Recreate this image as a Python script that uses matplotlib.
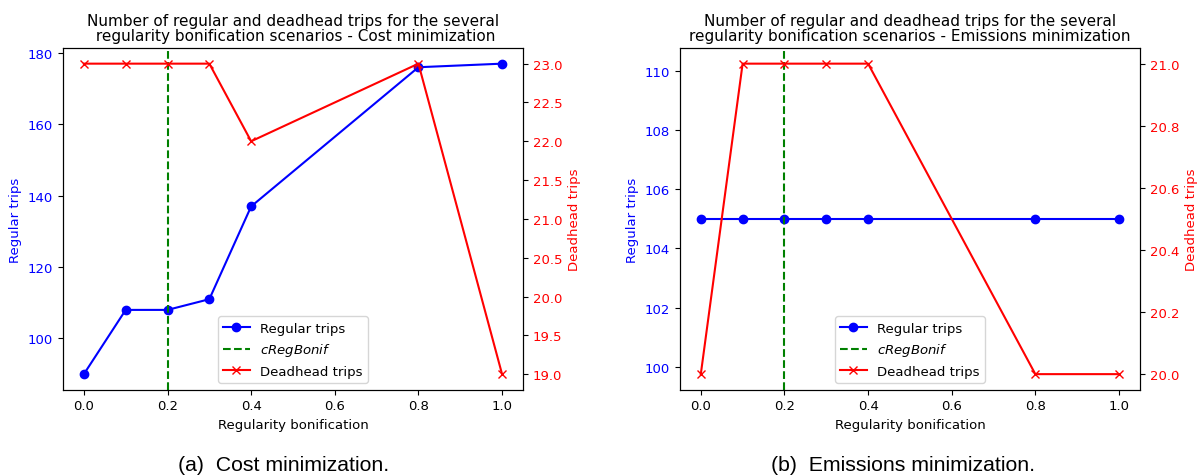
import matplotlib
matplotlib.use('Agg')
import matplotlib.pyplot as plt

# regularity bonification values
bonif = [0.0, 0.1, 0.2, 0.3, 0.4, 0.8, 1.0]
c_reg_bonif = 0.2

# cost minimization
cost_regular = [90, 108, 108, 111, 137, 176, 177]
cost_deadhead = [23, 23, 23, 23, 22, 23, 19]

# emissions minimization
em_regular = [105, 105, 105, 105, 105, 105, 105]
em_deadhead = [20, 21, 21, 21, 21, 20, 20]

titles = ['Number of regular and deadhead trips for the several\n regularity bonification scenarios - Cost minimization',
          'Number of regular and deadhead trips for the several\nregularity bonification scenarios - Emissions minimization']
captions = ['(a)  Cost minimization.', '(b)  Emissions minimization.']

FS = 9.5

fig = plt.figure(figsize=(11.97, 4.77), dpi=100)

def panel(rect, regular, deadhead, title):
    ax1 = fig.add_axes(rect)
    l1, = ax1.plot(bonif, regular, 'b-o', label='Regular trips')
    l2 = ax1.axvline(c_reg_bonif, color='g', linestyle='--', label='$cRegBonif$')
    ax1.set_xlabel('Regularity bonification', fontsize=FS)
    ax1.set_ylabel('Regular trips', color='b', fontsize=FS)
    ax1.tick_params(axis='y', labelcolor='b', labelsize=FS)
    ax1.tick_params(axis='x', labelsize=FS)
    ax2 = ax1.twinx()
    l3, = ax2.plot(bonif, deadhead, 'r-x', label='Deadhead trips')
    ax2.set_ylabel('Deadhead trips', color='r', fontsize=FS)
    ax2.tick_params(axis='y', labelcolor='r', labelsize=FS)
    ax1.set_title(title, fontsize=11, linespacing=1.0)
    ax1.legend(handles=[l1, l2, l3], loc='lower center', fontsize=FS)
    return ax1

panel([0.0526, 0.181, 0.3843, 0.716], cost_regular, cost_deadhead, titles[0])
panel([0.568, 0.181, 0.3843, 0.716], em_regular, em_deadhead, titles[1])

fig.text(0.237, 0.012, captions[0], ha='center', fontsize=15.3, family='Liberation Sans')
fig.text(0.754, 0.012, captions[1], ha='center', fontsize=15.3, family='Liberation Sans')

fig.savefig('out.png', dpi=100)
